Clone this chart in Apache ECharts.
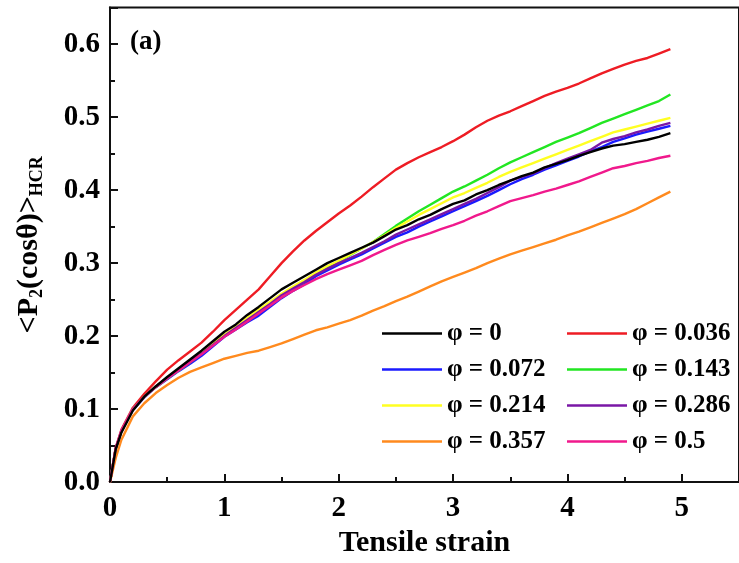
<!DOCTYPE html>
<html>
<head>
<meta charset="utf-8">
<script src="https://cdn.jsdelivr.net/npm/echarts@6/dist/echarts.min.js"></script>
<style>html,body{margin:0;padding:0;background:#fff;}#c{width:739px;height:563px;}</style>
</head>
<body>
<div id="c"></div>
<script>
var strain = [0,0.05,0.1,0.2,0.3,0.4,0.5,0.6,0.7,0.8,0.9,1.0,1.1,1.2,1.3,1.4,1.5,1.6,1.7,1.8,1.9,2.0,2.1,2.2,2.3,2.4,2.5,2.6,2.7,2.8,2.9,3.0,3.1,3.2,3.3,3.4,3.5,3.6,3.7,3.8,3.9,4.0,4.1,4.2,4.3,4.4,4.5,4.6,4.7,4.8,4.9];

var phi0 = [0,0.045,0.068,0.098,0.117,0.131,0.144,0.156,0.168,0.18,0.193,0.206,0.216,0.229,0.24,0.252,0.264,0.273,0.282,0.291,0.3,0.307,0.314,0.321,0.328,0.337,0.346,0.352,0.36,0.366,0.374,0.381,0.386,0.394,0.4,0.407,0.413,0.419,0.424,0.431,0.436,0.441,0.447,0.452,0.457,0.461,0.463,0.466,0.469,0.473,0.478];
var phi036 = [0,0.047,0.072,0.102,0.121,0.138,0.154,0.167,0.179,0.191,0.206,0.222,0.236,0.25,0.264,0.282,0.3,0.316,0.331,0.344,0.356,0.368,0.379,0.391,0.404,0.416,0.428,0.437,0.445,0.452,0.459,0.467,0.476,0.486,0.495,0.502,0.508,0.515,0.522,0.529,0.535,0.54,0.546,0.553,0.56,0.566,0.572,0.577,0.581,0.587,0.593];
var phi072 = [0,0.046,0.07,0.099,0.116,0.13,0.141,0.152,0.162,0.173,0.186,0.199,0.209,0.219,0.228,0.24,0.252,0.262,0.271,0.282,0.29,0.298,0.305,0.312,0.32,0.328,0.336,0.342,0.35,0.357,0.364,0.371,0.378,0.385,0.392,0.4,0.408,0.415,0.421,0.428,0.434,0.44,0.446,0.453,0.459,0.466,0.471,0.476,0.48,0.484,0.488];
var phi143 = [0,0.046,0.07,0.1,0.117,0.13,0.142,0.153,0.164,0.176,0.189,0.201,0.212,0.223,0.234,0.245,0.257,0.266,0.275,0.285,0.294,0.302,0.311,0.32,0.329,0.34,0.351,0.361,0.371,0.38,0.389,0.398,0.405,0.413,0.421,0.43,0.438,0.445,0.452,0.459,0.466,0.472,0.478,0.485,0.492,0.498,0.504,0.51,0.516,0.522,0.531];
var phi214 = [0,0.046,0.07,0.1,0.117,0.131,0.143,0.155,0.167,0.178,0.19,0.202,0.213,0.225,0.236,0.247,0.258,0.268,0.277,0.287,0.296,0.303,0.312,0.32,0.329,0.338,0.348,0.357,0.366,0.374,0.382,0.39,0.396,0.403,0.41,0.418,0.425,0.431,0.437,0.443,0.449,0.455,0.461,0.467,0.473,0.479,0.483,0.487,0.491,0.495,0.499];
var phi286 = [0,0.046,0.07,0.1,0.117,0.131,0.143,0.154,0.165,0.176,0.188,0.2,0.211,0.222,0.233,0.244,0.256,0.265,0.274,0.284,0.292,0.3,0.307,0.314,0.322,0.33,0.339,0.346,0.353,0.36,0.367,0.374,0.381,0.388,0.396,0.404,0.413,0.418,0.423,0.43,0.437,0.443,0.449,0.455,0.465,0.47,0.474,0.479,0.483,0.488,0.492];
var phi357 = [0,0.033,0.058,0.09,0.108,0.122,0.133,0.143,0.151,0.157,0.163,0.169,0.173,0.177,0.18,0.185,0.19,0.196,0.202,0.208,0.212,0.217,0.222,0.228,0.235,0.241,0.248,0.254,0.261,0.268,0.275,0.281,0.287,0.293,0.3,0.306,0.312,0.317,0.322,0.327,0.332,0.338,0.343,0.349,0.355,0.361,0.367,0.374,0.382,0.39,0.398];
var phi5 = [0,0.047,0.071,0.1,0.117,0.13,0.142,0.153,0.164,0.175,0.187,0.199,0.209,0.22,0.231,0.242,0.253,0.262,0.27,0.278,0.285,0.291,0.297,0.303,0.311,0.318,0.325,0.331,0.336,0.341,0.347,0.352,0.358,0.365,0.371,0.378,0.385,0.389,0.393,0.398,0.402,0.407,0.412,0.418,0.424,0.43,0.433,0.437,0.44,0.444,0.447];

var seriesNames = ['\u03c6 = 0','\u03c6 = 0.036','\u03c6 = 0.072','\u03c6 = 0.143','\u03c6 = 0.214','\u03c6 = 0.286','\u03c6 = 0.357','\u03c6 = 0.5'];
var seriesValues = [phi0, phi036, phi072, phi143, phi214, phi286, phi357, phi5];
var seriesColors = ['#000000','#ee1c24','#1a1aff','#22e622','#ffff22','#7a17a6','#ff8a1e','#f0198c'];
var xTicks = [0,1,2,3,4,5];
var yTicks = [0.0,0.1,0.2,0.3,0.4,0.5,0.6];

var FONT = 'Liberation Serif';
var chart = echarts.init(document.getElementById('c'));

var series = seriesNames.map(function(n, i){
  return {
    name: n, type: 'line', symbol: 'none', smooth: false,
    data: strain.map(function(x, j){ return [x, seriesValues[i][j]]; }),
    lineStyle: {color: seriesColors[i], width: 2.4},
    itemStyle: {color: seriesColors[i]},
    z: 10 - (i === 0 ? 0 : 1)
  };
});

var legendCommon = {
  orient: 'vertical', itemWidth: 60, itemHeight: 14, itemGap: 11,
  icon: 'path://M0,5.8L60,5.8L60,8.2L0,8.2Z',
  textStyle: {fontFamily: FONT, fontWeight: 'bold', fontSize: 25, color: '#000'}
};

chart.setOption({
  animation: false,
  backgroundColor: '#fff',
  grid: {left: 110, right: -3.5, top: 7.6, bottom: 79, show: true, borderColor: '#111', borderWidth: 2},
  title: {text: '(a)', left: 125, top: 24, textStyle: {fontFamily: FONT, fontWeight: 'bold', fontSize: 27, color: '#000'}},
  legend: [
    Object.assign({}, legendCommon, {left: 377, top: 316, data: [seriesNames[0], seriesNames[2], seriesNames[4], seriesNames[6]]}),
    Object.assign({}, legendCommon, {left: 562, top: 316, data: [seriesNames[1], seriesNames[3], seriesNames[5], seriesNames[7]]})
  ],
  xAxis: {
    type: 'value', min: 0, max: 5.5, interval: 1,
    name: 'Tensile strain', nameLocation: 'middle', nameGap: 42,
    nameTextStyle: {fontFamily: FONT, fontWeight: 'bold', fontSize: 30, color: '#000'},
    axisLine: {show: true, lineStyle: {color: '#111', width: 2}},
    axisTick: {show: true, inside: true, length: 8, lineStyle: {color: '#111', width: 2}},
    minorTick: {show: true, splitNumber: 2, length: 5, lineStyle: {color: '#111', width: 2}},
    splitLine: {show: false},
    axisLabel: {showMaxLabel: false, margin: 12, fontFamily: FONT, fontWeight: 'bold', fontSize: 29, color: '#000',
      formatter: function(v){ return xTicks.indexOf(v) >= 0 ? String(v) : ''; }}
  },
  yAxis: {
    type: 'value', min: 0, max: 0.65, interval: 0.1,
    name: '{m|<P}{s|2}{m|(cos\u03b8)>}{s|HCR}', nameLocation: 'middle', nameGap: 64, nameRotate: 90,
    nameTextStyle: {fontFamily: FONT, fontWeight: 'bold', color: '#000',
      rich: {
        m: {fontFamily: FONT, fontWeight: 'bold', fontSize: 30, lineHeight: 34, color: '#000'},
        s: {fontFamily: FONT, fontWeight: 'bold', fontSize: 18, lineHeight: 10, verticalAlign: 'bottom', color: '#000'}
      }},
    axisLine: {show: true, lineStyle: {color: '#111', width: 2}},
    axisTick: {show: true, inside: true, length: 8, lineStyle: {color: '#111', width: 2}},
    minorTick: {show: true, splitNumber: 2, length: 5, lineStyle: {color: '#111', width: 2}},
    splitLine: {show: false},
    axisLabel: {showMaxLabel: false, margin: 10, fontFamily: FONT, fontWeight: 'bold', fontSize: 29, color: '#000',
      formatter: function(v){
        for (var k = 0; k < yTicks.length; k++) { if (Math.abs(yTicks[k] - v) < 1e-9) return yTicks[k].toFixed(1); }
        return '';
      }}
  },
  series: series
});
</script>
</body>
</html>
